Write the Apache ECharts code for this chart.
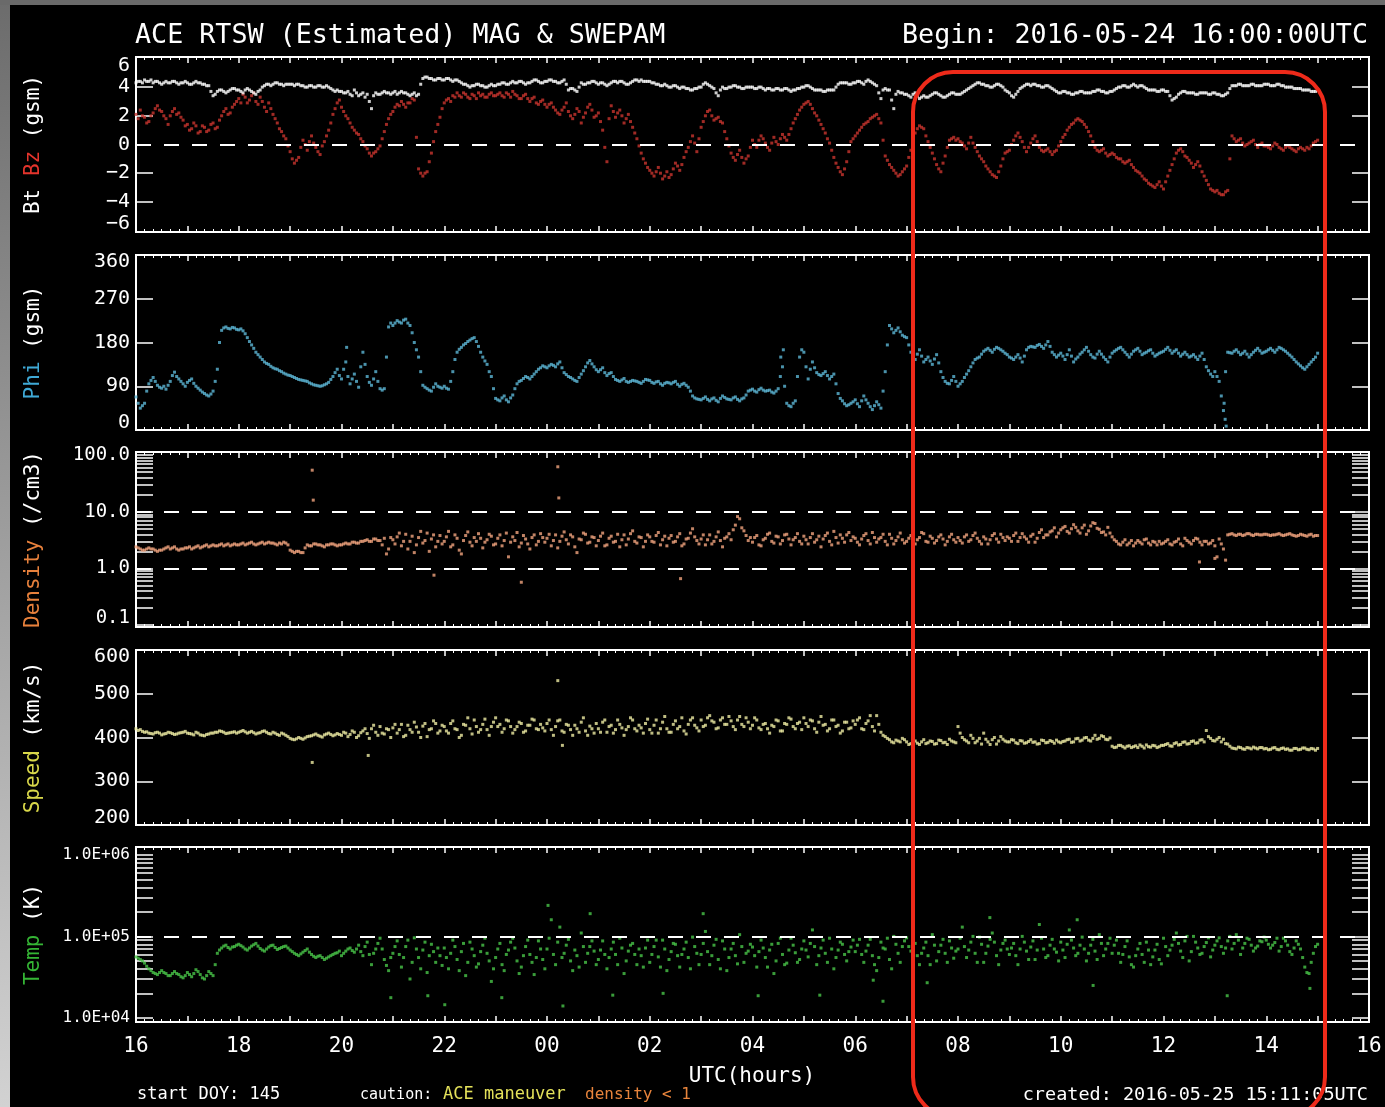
<!DOCTYPE html>
<html>
<head>
<meta charset="utf-8">
<title>ACE RTSW (Estimated) MAG &amp; SWEPAM</title>
<script src="https://cdn.jsdelivr.net/npm/echarts@6/dist/echarts.min.js"></script>
<style>
  html, body { margin: 0; padding: 0; background: #000; }
  #chart { width: 1385px; height: 1107px; }
</style>
</head>
<body>
<div id="chart"></div>
<script>
// ACE real-time solar wind, 2016-05-24 16:00 UTC onward.
// One value every 2.5 minutes; each line holds half an hour.
const STEP_HOURS = 2.5 / 60;
const hourTicks = [16, 18, 20, 22, 0, 2, 4, 6, 8, 10, 12, 14, 16];

// Total field Bt (nT)
const btValues = [
  4.3,4.4,4.4,4.3,4.5,4.4,4.4,4.5,4.3,4.4,4.4,4.3,
  4.2,4.3,4.4,4.3,4.3,4.4,4.4,4.3,4.2,4.3,4.3,4.4,
  4.3,4.2,4.2,4.3,4.4,4.3,4.3,4.2,4.2,4.1,4.1,3.7,
  3.4,3.5,3.7,3.8,3.8,3.7,3.6,3.7,3.8,3.9,3.9,3.8,
  3.8,3.7,3.6,3.8,3.9,3.8,3.7,3.6,3.5,3.7,3.8,4.0,
  4.1,4.2,4.2,4.1,4.2,4.3,4.3,4.2,4.2,4.1,4.2,4.2,
  4.2,4.2,4.1,4.2,4.2,4.1,4.1,4.0,4.0,4.1,4.1,4.0,
  4.0,4.1,4.1,4.0,4.0,4.1,4.0,3.9,3.8,3.7,3.8,3.7,
  3.7,3.6,3.6,3.7,3.5,3.4,3.8,3.6,3.4,3.5,3.6,3.3,
  3.5,3.0,2.5,3.4,3.6,3.5,3.5,3.6,3.7,3.6,3.6,3.5,
  3.6,3.7,3.5,3.6,3.7,3.6,3.6,3.5,3.4,3.5,3.6,3.4,
  3.5,4.2,4.6,4.7,4.7,4.6,4.6,4.5,4.5,4.6,4.6,4.5,
  4.5,4.6,4.6,4.5,4.4,4.5,4.5,4.4,4.3,4.2,4.2,4.1,
  4.0,4.1,4.1,4.2,4.2,4.1,4.1,4.0,4.0,4.1,4.2,4.1,
  4.1,4.2,4.2,4.3,4.3,4.2,4.2,4.3,4.4,4.3,4.3,4.4,
  4.4,4.3,4.2,4.3,4.3,4.4,4.5,4.5,4.4,4.3,4.3,4.4,
  4.4,4.5,4.5,4.4,4.4,4.3,4.3,4.4,4.5,4.2,3.8,3.9,
  3.9,3.8,3.7,4.0,4.3,4.2,4.2,4.3,4.3,4.4,4.4,4.3,
  4.2,4.3,4.3,4.2,4.1,4.2,4.3,4.4,4.4,4.3,4.4,4.4,
  4.3,4.2,4.2,4.3,4.4,4.5,4.5,4.4,4.5,4.4,4.4,4.4,
  4.4,4.3,4.3,4.2,4.2,4.1,4.1,4.2,4.1,4.0,4.0,4.1,
  4.1,4.0,3.9,4.0,4.0,3.9,3.9,3.8,3.8,3.9,3.9,4.0,
  4.0,4.2,4.3,4.2,4.1,4.0,3.9,3.6,3.4,3.8,4.0,3.9,
  3.9,4.0,4.0,4.1,4.1,4.0,4.0,3.9,3.9,4.0,4.0,4.0,
  4.0,3.9,3.9,4.0,4.0,3.9,3.8,3.9,3.9,3.8,3.8,3.9,
  3.9,3.8,3.8,3.9,3.9,3.8,3.7,3.8,3.8,3.9,3.9,4.0,
  4.0,4.1,4.1,4.0,3.9,3.8,3.8,3.8,3.8,3.7,3.7,3.8,
  3.8,3.8,3.8,4.0,4.2,4.3,4.3,4.3,4.3,4.2,4.2,4.3,
  4.3,4.4,4.4,4.3,4.2,4.4,4.5,4.4,4.3,4.2,4.1,3.6,
  3.2,3.8,3.9,3.8,3.8,3.1,2.5,3.5,3.7,3.6,3.6,3.5,
  3.5,3.4,3.3,3.5,3.6,3.4,3.2,3.3,3.4,3.3,3.3,3.4,
  3.5,3.6,3.6,3.5,3.4,3.3,3.3,3.4,3.5,3.6,3.6,3.5,
  3.5,3.5,3.6,3.7,3.8,3.9,4.0,4.1,4.2,4.3,4.3,4.2,
  4.2,4.1,4.1,4.0,4.0,4.1,4.2,4.2,4.1,4.0,3.8,3.7,
  3.6,3.4,3.3,3.5,3.7,3.9,4.0,4.1,4.2,4.2,4.1,4.2,
  4.2,4.1,4.1,4.0,4.0,4.1,4.1,4.0,3.9,3.8,3.7,3.6,
  3.6,3.7,3.7,3.6,3.6,3.5,3.5,3.6,3.6,3.7,3.7,3.6,
  3.6,3.6,3.6,3.7,3.7,3.8,3.8,3.7,3.7,3.6,3.6,3.7,
  3.7,3.8,3.9,4.0,4.0,4.1,4.1,4.0,4.0,4.1,4.2,4.1,
  4.0,4.1,4.1,4.0,3.9,3.8,3.8,3.8,3.8,3.7,3.7,3.8,
  3.8,3.7,3.7,3.4,3.1,3.2,3.3,3.5,3.6,3.7,3.7,3.6,
  3.6,3.6,3.6,3.5,3.5,3.6,3.6,3.6,3.6,3.5,3.5,3.6,
  3.6,3.5,3.5,3.4,3.4,3.5,3.6,3.9,4.1,4.1,4.1,4.2,
  4.2,4.1,4.1,4.1,4.1,4.2,4.2,4.1,4.1,4.1,4.1,4.2,
  4.2,4.2,4.1,4.1,4.1,4.2,4.2,4.1,4.1,4.0,4.0,4.0,
  4.0,3.9,3.9,3.9,3.9,3.8,3.8,3.8,3.8,3.7,3.7,3.7,
  3.8
];

// Bz GSM (nT)
const bzValues = [
  2.1,1.8,2.4,2.0,1.9,1.5,1.6,2.0,2.2,2.5,2.7,2.4,
  2.3,2.0,1.8,1.4,2.0,2.3,2.5,2.1,2.2,1.9,1.7,1.3,
  1.4,1.0,1.1,1.5,1.3,0.8,0.9,1.3,1.2,0.9,1.0,1.4,
  1.5,1.1,1.2,1.7,2.0,2.3,2.5,2.1,2.2,2.6,2.8,3.0,
  3.2,2.9,3.5,3.3,2.9,3.1,3.4,3.6,3.0,2.8,3.3,3.0,
  2.6,2.3,2.9,2.5,2.1,1.8,1.5,1.1,0.9,0.6,0.4,-0.1,
  -0.5,-1.0,-1.3,-1.1,-0.9,-0.2,0.3,0.0,-0.4,0.2,0.6,0.1,
  -0.2,-0.5,-0.7,-0.1,0.2,0.6,1.0,1.5,2.1,2.5,2.9,3.1,
  2.6,2.3,2.0,1.8,1.5,1.2,1.0,0.8,0.7,0.4,0.2,-0.1,
  -0.3,-0.6,-0.8,-0.6,-0.5,-0.3,-0.1,0.4,0.9,1.4,1.8,2.1,
  2.3,2.6,2.8,2.7,3.0,2.8,2.6,2.9,2.9,3.2,3.1,0.5,
  -1.7,-2.0,-2.2,-2.0,-1.9,-1.2,-0.6,0.2,0.9,1.4,1.9,2.5,
  2.9,3.1,3.2,3.0,3.4,3.3,3.6,3.4,3.3,3.6,3.5,3.3,
  3.2,3.5,3.4,3.2,3.6,3.4,3.5,3.3,3.3,3.5,3.6,3.4,
  3.4,3.5,3.6,3.4,3.3,3.6,3.5,3.3,3.7,3.5,3.4,3.2,
  3.2,3.4,3.5,3.2,3.0,3.2,3.3,2.9,2.8,3.0,3.1,2.8,
  2.6,2.8,2.9,2.6,2.4,2.2,2.1,2.4,2.6,2.9,2.3,2.0,
  1.8,2.1,2.5,2.3,1.5,1.9,2.2,2.6,2.8,2.4,1.9,2.0,
  2.2,1.6,1.0,-0.2,-1.2,1.8,2.7,2.3,1.9,2.2,2.4,2.0,
  1.5,1.8,2.1,1.6,1.2,0.8,0.4,-0.1,-0.6,-1.0,-1.3,-1.6,
  -1.8,-2.0,-2.2,-1.9,-1.6,-2.0,-2.4,-2.2,-1.9,-2.3,-2.1,-1.7,
  -1.3,-1.5,-1.8,-1.4,-0.9,-0.5,-0.2,0.2,0.6,0.1,-0.5,0.4,
  1.2,1.6,2.0,2.3,2.4,2.0,1.7,1.8,1.9,1.6,1.5,0.9,
  0.4,-0.1,-0.6,-0.9,-1.1,-0.7,-0.4,-0.9,-1.3,-1.0,-0.8,-0.2,
  0.3,0.0,-0.2,0.3,0.6,0.4,0.1,-0.2,-0.4,0.1,0.5,0.2,
  0.0,0.4,0.7,0.5,0.3,0.7,1.1,1.5,1.8,2.1,2.4,2.6,
  2.8,2.9,3.0,2.8,2.5,2.2,2.0,1.7,1.4,1.1,0.8,0.4,
  0.1,-0.4,-0.9,-1.3,-1.6,-1.9,-2.1,-1.7,-1.2,-0.5,0.2,0.4,
  0.6,0.8,1.0,1.2,1.4,1.5,1.6,1.8,1.9,2.0,2.1,1.8,
  1.5,0.3,-0.8,-1.1,-1.4,-1.6,-1.8,-2.0,-2.2,-2.1,-1.9,-1.7,
  -1.5,-0.9,-0.4,0.2,0.8,1.1,1.3,1.2,1.1,0.6,0.2,-0.2,
  -0.6,-1.0,-1.4,-1.7,-1.9,-1.3,-0.8,-0.2,0.3,0.4,0.5,0.3,
  0.4,0.2,0.1,-0.1,-0.3,0.1,0.5,0.1,-0.2,-0.5,-0.8,-1.0,
  -1.2,-1.5,-1.7,-1.9,-2.1,-2.2,-2.3,-1.9,-1.5,-1.0,-0.6,-0.5,
  -0.4,0.0,0.3,0.6,0.8,0.5,0.2,-0.2,-0.5,-0.2,0.1,0.4,
  0.6,0.2,-0.2,-0.4,-0.5,-0.4,-0.3,-0.5,-0.7,-0.5,-0.4,-0.1,
  0.2,0.5,0.7,1.0,1.2,1.4,1.5,1.7,1.8,1.7,1.6,1.4,
  1.2,0.9,0.6,0.2,-0.2,-0.4,-0.5,-0.4,-0.3,-0.6,-0.8,-0.7,
  -0.6,-0.7,-0.9,-1.0,-1.0,-1.2,-1.3,-1.2,-1.1,-1.4,-1.6,-1.8,
  -1.9,-2.0,-2.2,-2.4,-2.5,-2.7,-2.8,-2.9,-3.0,-2.8,-2.6,-2.9,
  -3.1,-2.6,-2.2,-1.8,-1.4,-1.0,-0.6,-0.4,-0.3,-0.5,-0.8,-0.9,
  -1.1,-1.3,-1.6,-1.4,-1.2,-1.5,-1.9,-2.2,-2.5,-2.8,-3.1,-3.2,
  -3.3,-3.2,-3.4,-3.5,-3.5,-3.3,-3.2,-1.0,0.6,0.4,0.2,0.3,
  0.4,0.1,-0.1,0.0,0.1,0.2,0.3,0.0,-0.2,0.0,0.1,-0.1,
  -0.1,-0.2,-0.3,-0.1,0.1,0.0,-0.2,-0.3,-0.4,-0.2,-0.1,-0.2,
  -0.3,-0.4,-0.5,-0.3,-0.2,-0.3,-0.4,-0.2,-0.3,-0.1,0.1,0.2,
  0.3
];

// Phi GSM (degrees)
const phiValues = [
  68,55,45,50,55,80,95,102,108,100,92,88,
  86,90,84,92,100,112,119,110,105,100,95,90,
  98,102,105,96,90,86,82,78,75,72,70,74,
  80,100,125,180,205,210,212,209,208,211,210,207,
  206,208,204,198,190,182,175,168,160,155,150,145,
  140,137,135,131,128,126,125,122,120,117,115,113,
  112,110,108,106,104,103,102,101,100,97,95,93,
  92,91,90,91,93,95,98,104,110,118,125,112,
  105,125,140,110,95,105,115,100,88,130,160,135,
  110,98,92,105,120,100,85,82,85,150,212,220,
  215,220,225,222,220,226,228,220,215,200,180,165,
  150,120,92,88,85,82,80,88,95,90,88,86,
  90,86,84,100,120,145,160,166,170,175,178,182,
  185,188,190,182,172,160,150,142,135,120,110,85,
  65,62,60,66,70,62,58,66,72,85,95,100,
  102,106,110,108,105,110,115,120,125,128,132,130,
  128,132,135,133,130,136,140,128,118,114,110,108,
  105,102,100,108,115,122,130,138,143,136,130,124,
  120,124,128,118,112,116,118,110,104,102,100,103,
  106,100,98,100,102,101,100,98,96,100,104,103,
  102,98,96,99,100,95,92,96,98,97,95,98,
  100,94,90,94,96,92,88,80,70,66,64,63,
  62,65,68,63,60,64,66,61,58,65,70,67,
  64,63,62,66,68,63,60,64,66,72,80,82,
  84,80,78,83,86,82,80,81,82,78,76,80,
  85,110,130,90,55,50,48,55,60,110,150,165,
  160,130,105,125,140,128,118,114,112,116,120,112,
  105,110,115,95,75,65,60,54,50,52,55,58,
  62,54,48,60,70,62,55,48,42,50,58,52,
  45,80,120,175,215,208,200,205,210,202,195,192,
  190,175,160,150,145,156,165,152,140,145,150,142,
  135,146,155,138,120,108,100,96,95,102,110,100,
  90,95,100,108,115,122,130,138,145,148,150,156,
  162,165,168,164,160,166,170,168,165,162,158,155,
  150,148,145,150,155,148,140,152,165,170,172,171,
  170,174,176,172,168,175,182,172,160,155,150,154,
  158,152,145,155,165,152,140,146,150,156,160,165,
  170,162,155,150,148,156,162,156,150,145,140,150,
  158,162,165,168,170,165,160,155,150,156,162,165,
  168,162,155,158,160,163,165,158,152,155,158,160,
  162,166,170,164,158,162,165,158,152,156,160,155,
  150,152,155,150,145,152,158,145,130,122,115,110,
  120,110,100,70,40,120,160,159,158,162,165,160,
  155,158,162,156,150,155,160,164,168,163,158,160,
  162,165,168,164,160,165,170,168,165,162,158,154,
  150,145,140,136,132,128,125,130,135,140,145,150,
  158
];
// isolated Phi readings [hours after start, degrees]
const phiExtra = [[21.18, 55], [21.2, 22], [21.22, 8], [12.55, 150], [12.6, 165], [4.1, 170]];

// Proton density (/cm3)
const densityValues = [
  2.4,2.3,2.2,2.1,2.1,2.2,2.3,2.2,2.2,2.1,2.0,2.1,
  2.1,2.2,2.3,2.4,2.2,2.3,2.4,2.2,2.1,2.2,2.2,2.3,
  2.3,2.4,2.2,2.3,2.4,2.5,2.3,2.4,2.5,2.6,2.4,2.5,
  2.6,2.5,2.5,2.6,2.7,2.5,2.6,2.7,2.5,2.6,2.7,2.6,
  2.6,2.7,2.8,2.6,2.7,2.8,2.9,2.7,2.6,2.7,2.8,2.9,
  2.7,2.8,2.9,2.8,2.8,2.7,2.6,2.8,2.7,2.9,2.8,2.6,
  2.1,2.0,1.9,2.0,2.0,1.9,1.9,2.3,2.6,2.5,2.5,2.7,
  2.7,2.6,2.6,2.5,2.4,2.6,2.6,2.7,2.7,2.6,2.5,2.6,
  2.6,2.7,2.8,2.7,2.7,2.9,2.9,2.8,2.8,3.0,3.0,3.1,
  3.2,3.0,3.0,3.3,3.3,3.1,3.1,2.6,3.4,1.8,2.2,3.5,
  3.2,2.7,3.6,4.2,2.5,3.0,4.0,2.2,3.0,3.7,1.9,2.6,
  3.5,4.5,2.8,3.1,4.2,2.0,3.3,3.9,2.4,3.0,3.8,2.7,
  3.0,3.6,4.5,2.4,2.6,3.9,3.4,2.1,1.8,3.1,3.8,4.4,
  2.9,2.5,3.5,3.0,4.1,3.4,2.3,2.9,3.2,4.0,3.7,2.6,
  2.7,3.4,3.9,2.5,3.1,4.2,1.6,2.9,3.6,3.1,4.3,2.4,
  2.8,3.8,3.3,2.7,2.2,3.5,3.9,2.6,3.0,4.1,3.5,2.9,
  3.4,4.0,2.5,3.1,3.9,2.3,3.0,3.7,4.4,3.2,2.7,3.9,
  3.6,2.4,1.9,3.3,3.2,4.2,4.0,2.8,2.9,3.6,3.5,2.5,
  3.1,3.7,4.2,2.5,2.6,3.4,3.7,2.9,3.0,4.0,2.4,3.2,
  3.9,2.6,3.3,4.1,4.6,3.0,2.8,3.6,3.5,2.4,3.0,3.9,
  3.6,3.0,2.9,3.8,4.3,2.6,3.2,3.7,2.5,3.4,3.8,2.9,
  3.0,3.6,4.1,2.5,2.7,3.3,3.4,4.2,5.0,3.6,3.1,2.7,
  3.3,3.9,2.6,3.2,3.9,2.7,3.0,3.6,4.4,3.1,2.4,3.4,
  3.6,4.1,3.2,4.8,5.8,8.2,7.5,5.2,4.6,3.8,3.1,3.5,
  2.9,3.5,3.8,2.6,2.5,3.2,3.4,4.0,4.2,3.0,2.8,3.7,
  3.6,2.7,3.1,3.9,4.0,3.3,2.6,3.2,3.5,4.1,3.0,2.7,
  3.7,3.2,2.7,3.5,4.1,2.9,3.2,3.7,2.4,3.3,3.8,4.2,
  3.0,2.6,4.5,3.5,2.8,3.9,3.4,2.9,3.9,4.3,3.1,3.6,
  3.4,2.9,2.6,3.3,3.8,4.1,3.1,2.7,4.3,3.5,2.9,3.3,
  3.5,4.0,3.0,2.6,4.0,3.4,2.7,3.1,3.6,4.2,3.2,2.8,
  3.0,3.4,3.8,2.6,2.7,3.2,3.5,4.3,4.1,3.0,2.9,3.7,
  3.4,2.8,3.1,3.6,3.9,3.3,2.6,3.0,3.6,4.0,3.2,2.9,
  3.5,3.1,2.8,3.6,3.9,3.0,3.2,3.8,4.2,3.4,3.0,2.7,
  3.6,3.3,2.7,3.2,3.8,4.1,3.3,2.9,4.0,3.5,3.1,3.6,
  3.4,3.0,3.8,4.2,3.0,3.5,4.1,3.6,3.3,2.9,3.7,4.0,
  2.9,3.4,4.3,4.8,3.5,3.9,3.9,4.4,4.6,5.2,3.6,4.2,
  4.8,5.2,5.5,4.5,4.2,5.0,5.9,5.3,4.6,4.2,5.2,5.8,
  4.0,4.6,5.6,6.4,6.2,5.1,4.9,4.3,4.4,3.9,5.3,4.2,
  3.6,3.2,3.0,2.7,2.6,2.9,3.2,2.6,2.8,3.1,2.5,2.8,
  3.1,2.9,2.7,3.2,3.3,2.8,2.6,3.0,2.9,2.6,3.0,2.7,
  2.8,3.0,3.2,2.7,2.6,2.9,3.0,3.3,2.7,2.5,3.4,3.1,
  2.9,2.7,3.1,3.4,3.3,2.9,2.6,3.0,3.0,2.7,2.8,3.1,
  2.5,1.6,3.3,2.7,2.2,1.4,3.9,4.0,4.1,3.9,3.8,4.0,
  4.0,3.8,3.9,4.1,4.1,3.9,3.8,4.0,4.0,3.9,3.9,4.0,
  4.0,3.9,3.8,3.9,3.9,4.0,4.1,3.9,3.8,3.9,4.0,4.1,
  3.9,3.8,3.7,3.8,4.0,3.9,3.8,3.7,3.9,4.0,3.7,3.8,
  3.8
];
// isolated density readings [hours after start, /cm3]
const densityExtra = [[3.43,54],[3.45,16],[8.21,62],[8.23,17.5],[5.8,0.76],[7.5,0.57],[10.6,0.66],[20.7,1.3],[21.0,1.5]];

// Bulk speed (km/s)
const speedValues = [
  420,416,418,414,412,413,410,409,408,411,412,410,
  406,408,409,412,411,409,407,408,410,411,412,414,
  410,409,408,406,412,410,406,405,404,407,408,410,
  410,412,412,415,414,412,409,410,411,412,413,410,
  412,414,416,413,410,412,414,411,408,410,411,414,
  415,412,409,408,412,410,407,405,410,408,405,402,
  398,396,395,397,400,398,396,399,402,403,404,406,
  408,405,403,401,406,408,410,407,404,406,409,407,
  405,412,410,402,407,415,412,400,404,411,415,420,
  409,398,420,428,412,405,425,410,408,420,418,400,
  422,430,410,418,430,402,405,428,418,412,435,424,
  412,400,426,432,402,418,420,438,432,410,415,428,
  425,415,410,432,438,420,418,400,405,430,428,445,
  420,408,440,425,412,418,430,442,418,405,425,435,
  445,425,430,412,420,440,438,425,410,418,425,435,
  432,412,415,428,428,442,440,420,418,430,422,415,
  432,440,418,405,425,438,440,415,412,430,428,418,
  405,428,420,412,435,445,415,405,426,420,410,432,
  420,412,435,440,412,425,428,410,418,440,430,422,
  405,418,425,445,440,420,415,428,422,410,432,442,
  418,410,428,440,410,420,435,448,420,412,412,430,
  438,420,425,445,415,408,430,440,445,428,422,415,
  440,425,428,445,450,438,435,420,422,440,445,430,
  430,448,438,425,418,440,448,430,425,445,435,420,
  428,445,440,422,418,430,432,420,410,428,425,440,
  438,415,415,432,430,445,442,425,420,432,435,418,
  445,432,425,440,438,420,412,435,448,428,430,415,
  420,440,440,425,428,410,415,435,435,420,422,438,
  430,440,445,420,418,432,438,450,425,415,450,430,
  412,405,402,398,395,390,388,394,392,390,398,395,
  390,384,386,392,392,387,384,390,395,386,388,392,
  391,385,386,394,393,388,389,384,396,392,390,388,
  425,410,400,395,392,388,405,398,388,392,398,385,
  410,396,390,384,395,400,385,392,402,396,392,390,
  390,395,394,388,386,393,392,387,388,391,395,389,
  390,385,386,394,393,388,389,393,391,387,394,390,
  388,391,392,395,396,389,390,397,398,392,394,399,
  400,394,392,398,405,396,398,404,402,396,395,399,
  380,377,378,382,382,379,376,380,381,377,379,381,
  377,383,380,376,383,379,378,382,381,377,379,382,
  382,384,386,381,380,386,388,383,384,389,390,385,
  386,391,392,387,388,394,395,390,416,402,398,393,
  392,396,400,390,396,386,385,380,376,375,374,378,
  377,374,373,377,376,374,378,376,374,377,377,374,
  375,372,373,376,377,373,372,375,376,373,374,371,
  371,375,375,372,373,376,376,373,372,375,374,371,
  375
];
const speedExtra = [[3.43,343],[4.52,359],[8.21,530],[8.3,382]];

// Proton temperature (K)
const tempValues = [
  56000,54000,52000,50000,47000,43000,40000,38000,36000,35000,34000,36000,
  38000,36000,35000,33000,33000,35000,37000,35000,34000,32000,31000,33000,
  36000,34000,32000,35000,39000,37000,34000,31000,30000,33000,37000,35000,
  33000,45000,62000,68000,72000,76000,78000,73000,70000,74000,75000,78000,
  80000,77000,74000,70000,68000,72000,76000,79000,82000,76000,71000,68000,
  66000,70000,74000,77000,78000,73000,69000,71000,73000,75000,76000,72000,
  68000,65000,62000,60000,58000,61000,64000,67000,70000,64000,60000,57000,
  55000,57000,58000,55000,52000,54000,56000,58000,60000,62000,63000,66000,
  58000,62000,66000,70000,72000,67000,64000,70000,78000,65000,58000,75000,
  85000,60000,45000,62000,70000,82000,95000,70000,52000,44000,38000,55000,
  62000,75000,88000,60000,42000,55000,75000,90000,30000,48000,96000,70000,
  55000,40000,68000,85000,36000,58000,80000,65000,48000,72000,58000,44000,
  72000,55000,40000,62000,90000,75000,52000,38000,65000,82000,33000,48000,
  85000,70000,58000,42000,46000,65000,78000,95000,62000,50000,28000,40000,
  55000,70000,82000,45000,38000,60000,68000,85000,95000,72000,50000,35000,
  42000,58000,75000,90000,60000,48000,34000,55000,88000,70000,52000,40000,
  70000,95000,160000,60000,45000,85000,130000,55000,62000,78000,92000,50000,
  38000,68000,58000,42000,110000,75000,48000,62000,75000,88000,66000,45000,
  52000,68000,88000,60000,40000,55000,70000,85000,60000,45000,95000,72000,
  35000,50000,66000,78000,82000,60000,45000,70000,58000,42000,72000,90000,
  48000,60000,75000,90000,56000,42000,90000,70000,38000,52000,65000,82000,
  80000,58000,42000,60000,70000,85000,55000,40000,98000,75000,62000,45000,
  60000,82000,115000,65000,45000,58000,78000,92000,52000,40000,88000,70000,
  38000,55000,70000,82000,58000,46000,105000,75000,48000,62000,66000,80000,
  74000,58000,42000,65000,90000,72000,55000,42000,68000,80000,35000,50000,
  82000,95000,60000,45000,47000,68000,95000,78000,63000,48000,52000,70000,
  88000,68000,56000,82000,120000,75000,45000,58000,72000,90000,62000,48000,
  95000,70000,40000,55000,68000,85000,80000,60000,50000,65000,74000,90000,
  65000,78000,92000,60000,48000,66000,78000,92000,58000,45000,38000,55000,
  85000,72000,70000,95000,52000,40000,100000,80000,62000,48000,75000,88000,
  96000,75000,66000,90000,82000,58000,45000,62000,72000,85000,58000,45000,
  105000,78000,50000,65000,78000,92000,62000,48000,88000,72000,54000,66000,
  70000,95000,130000,75000,55000,68000,85000,100000,62000,48000,98000,80000,
  48000,62000,76000,92000,110000,85000,58000,45000,68000,82000,90000,70000,
  60000,72000,82000,58000,45000,70000,100000,85000,66000,52000,74000,88000,
  52000,68000,140000,95000,70000,55000,58000,78000,92000,70000,64000,50000,
  85000,68000,55000,80000,120000,90000,72000,58000,62000,78000,98000,70000,
  50000,62000,78000,92000,66000,52000,105000,82000,58000,70000,82000,95000,
  62000,78000,90000,62000,48000,60000,75000,88000,56000,45000,42000,58000,
  70000,82000,60000,48000,85000,68000,45000,56000,68000,80000,52000,46000,
  95000,75000,58000,68000,78000,92000,110000,82000,66000,55000,88000,100000,
  50000,65000,100000,85000,72000,60000,62000,75000,84000,96000,56000,68000,
  78000,88000,96000,75000,62000,72000,88000,100000,70000,82000,105000,90000,
  60000,72000,82000,95000,92000,78000,66000,72000,76000,88000,86000,98000,
  90000,80000,72000,78000,84000,95000,66000,75000,95000,88000,78000,65000,
  60000,72000,88000,80000,70000,55000,42000,36000,35000,48000,62000,75000,
  80000
];
// isolated temperature readings [hours after start, K]
const tempExtra = [
  [4.96,17700],[5.68,18700],[6.01,14500],[7.12,17700],[8.31,14000],[9.28,19000],
  [10.26,20000],[12.11,18700],[13.31,19000],[14.35,29000],[14.54,16000],[15.4,27000],
  [18.63,25000],[21.24,18700],[22.85,23000],
  [8.02,240000],[8.84,190000],[11.04,190000],[16.62,170000],[18.32,160000]
];

const FONT = 'DejaVu Sans Mono';
const WHITE = '#ffffff';
const GRID_LEFT = 136, GRID_WIDTH = 1233, PANEL_HEIGHT = 175;
const PANEL_TOPS = [57, 255, 452, 650, 847];

const toPoints = arr => arr.map((v, i) => [i * STEP_HOURS, v]);
const decadeTicks = (lo, hi) => {
  const out = [];
  for (let e = lo; e < hi; e++) for (let m = 1; m <= 9; m++) out.push(m * Math.pow(10, e));
  out.push(Math.pow(10, hi));
  return out;
};

const hourLabel = v => {
  const h = Math.round(v);
  if (h % 2 !== 0) return '';
  return String(hourTicks[h / 2]).padStart(2, '0');
};

const panels = [
  { type: 'value', min: -6.1, max: 6.1, ticks: [-4, -2, 2, 4], labels: [-6, -4, -2, 0, 2, 4, 6],
    fmt: v => (v < 0 ? '\u2212' + Math.abs(v) : String(v)), labelSize: 20, edgeAlign: [true, true],
    name: 'Bt {c|Bz} (gsm)', nameColor: '#e4342c' },
  { type: 'value', min: 0, max: 360, ticks: [90, 180, 270], labels: [0, 90, 180, 270, 360],
    fmt: v => String(v), labelSize: 20, edgeAlign: [true, true],
    name: '{c|Phi} (gsm)', nameColor: '#3fa9d6' },
  { type: 'log', min: 0.0926, max: 113, ticks: decadeTicks(-1, 2), labels: [0.1, 1, 10, 100],
    fmt: v => Number(v).toFixed(1), labelSize: 19, edgeAlign: [true, false],
    name: '{c|Density} (/cm3)', nameColor: '#e8813c' },
  { type: 'value', min: 200, max: 600, ticks: [300, 400, 500], labels: [200, 300, 400, 500, 600],
    fmt: v => String(v), labelSize: 20, edgeAlign: [true, true],
    name: '{c|Speed} (km/s)', nameColor: '#d9d84a' },
  { type: 'log', min: 8900, max: 1.25e6, ticks: decadeTicks(4, 6), labels: [1e4, 1e5, 1e6],
    fmt: v => '1.0E+0' + Math.round(Math.log10(v)), labelSize: 16, edgeAlign: [false, false],
    name: '{c|Temp} (K)', nameColor: '#35b535' }
];

const grids = PANEL_TOPS.map(top => ({
  left: GRID_LEFT, width: GRID_WIDTH, top: top, height: PANEL_HEIGHT,
  show: true, borderColor: WHITE, borderWidth: 2, backgroundColor: 'transparent'
}));

const xAxes = [];
const yAxes = [];
panels.forEach((p, i) => {
  const last = i === panels.length - 1;
  const xCommon = () => ({
    type: 'value', gridIndex: i, min: 0, max: 24, interval: 1,
    splitLine: { show: false }, axisLine: { show: false, onZero: false },
    axisTick: { show: true, inside: true, length: 6, lineStyle: { color: WHITE, width: 1.5 } },
    minorTick: { show: true, splitNumber: 6, length: 3, lineStyle: { color: WHITE, width: 1 } }
  });
  xAxes.push(Object.assign(xCommon(), {
    position: 'bottom',
    axisLabel: { show: last, formatter: hourLabel, color: WHITE, fontSize: 21, fontFamily: FONT, margin: 14 }
  }));
  xAxes.push(Object.assign(xCommon(), { position: 'top', axisLabel: { show: false } }));

  const yCommon = () => {
    const o = {
      type: p.type, gridIndex: i, min: p.min, max: p.max,
      splitLine: { show: false }, axisLine: { show: false, onZero: false }, minorTick: { show: false },
      axisTick: { show: true, inside: true, length: 17, customValues: p.ticks.slice(), lineStyle: { color: WHITE, width: 1.5 } }
    };
    if (p.type === 'log') o.logBase = 10;
    return o;
  };
  const label = { show: true, customValues: p.labels.slice(), formatter: p.fmt, color: WHITE,
    fontSize: p.labelSize, lineHeight: 14, fontFamily: FONT, margin: 6,
    showMinLabel: true, showMaxLabel: true, hideOverlap: false };
  if (p.edgeAlign[0]) label.verticalAlignMinLabel = 'bottom';
  if (p.edgeAlign[1]) label.verticalAlignMaxLabel = 'top';
  yAxes.push(Object.assign(yCommon(), {
    position: 'left',
    name: p.name, nameLocation: 'middle', nameRotate: 90, nameGap: 92,
    nameTextStyle: { color: WHITE, fontSize: 21, fontFamily: FONT,
      rich: { c: { color: p.nameColor, fontSize: 21, fontFamily: FONT } } },
    axisLabel: label
  }));
  yAxes.push(Object.assign(yCommon(), { position: 'right', axisLabel: { show: false } }));
});

const refLines = values => ({
  silent: true, symbol: 'none', label: { show: false }, animation: false,
  lineStyle: { color: WHITE, width: 2, type: [15, 13] },
  data: values.map(v => ({ yAxis: v }))
});

function dots(name, panel, data, color, extra) {
  return Object.assign({
    type: 'scatter', name: name, xAxisIndex: 2 * panel, yAxisIndex: 2 * panel,
    data: data, symbol: 'rect', symbolSize: 3, silent: true, animation: false,
    itemStyle: { color: color }
  }, extra || {});
}

const series = [
  dots('Bz', 0, toPoints(bzValues), '#c8352e', { markLine: refLines([0]) }),
  dots('Bt', 0, toPoints(btValues), '#ffffff'),
  dots('Phi', 1, toPoints(phiValues).concat(phiExtra), '#5cb6d6'),
  dots('Density', 2, toPoints(densityValues).concat(densityExtra), '#f1a47e', { markLine: refLines([1, 10]) }),
  dots('Speed', 3, toPoints(speedValues).concat(speedExtra), '#eeeba2'),
  dots('Temp', 4, toPoints(tempValues).concat(tempExtra), '#48c448', { markLine: refLines([1e5]) })
];

const txt = (text, x, y, size, color, align) => ({
  type: 'text', x: x, y: y, silent: true, z: 50,
  style: { text: text, fill: color, fontSize: size, fontFamily: FONT, align: align || 'left', verticalAlign: 'middle' }
});

const graphics = [
  { type: 'rect', silent: true, z: 40, shape: { x: 0, y: 0, width: 10, height: 1107 },
    style: { fill: new echarts.graphic.LinearGradient(0, 0, 0, 1, [
      { offset: 0, color: '#6c6c6c' }, { offset: 1, color: '#d2d2d2' }]) } },
  { type: 'rect', silent: true, z: 40, shape: { x: 0, y: 0, width: 1385, height: 5 },
    style: { fill: '#6a6a6a' } },
  txt('ACE RTSW (Estimated) MAG & SWEPAM', 135, 36, 26.7, WHITE),
  txt('Begin: 2016-05-24 16:00:00UTC', 1368, 36, 26.7, WHITE, 'right'),
  txt('UTC(hours)', 752, 1077, 21, WHITE, 'center'),
  txt('start DOY: 145', 137, 1095, 17, WHITE),
  txt('caution:', 360, 1095, 15, WHITE),
  txt('ACE maneuver', 443, 1095, 17, '#e4e25a'),
  txt('density < 1', 585, 1095, 16, '#e8843c'),
  txt('created: 2016-05-25 15:11:05UTC', 1368, 1095, 18.5, WHITE, 'right'),
  // highlighted interval
  { type: 'rect', silent: true, z: 60, shape: { x: 913, y: 72, width: 412, height: 1045, r: 40 },
    style: { fill: 'none', stroke: '#ee2a1a', lineWidth: 4 } }
];

const chart = echarts.init(document.getElementById('chart'), null, { renderer: 'canvas' });
chart.setOption({
  backgroundColor: '#000000',
  animation: false,
  grid: grids,
  xAxis: xAxes,
  yAxis: yAxes,
  series: series,
  graphic: graphics
});
</script>
</body>
</html>
